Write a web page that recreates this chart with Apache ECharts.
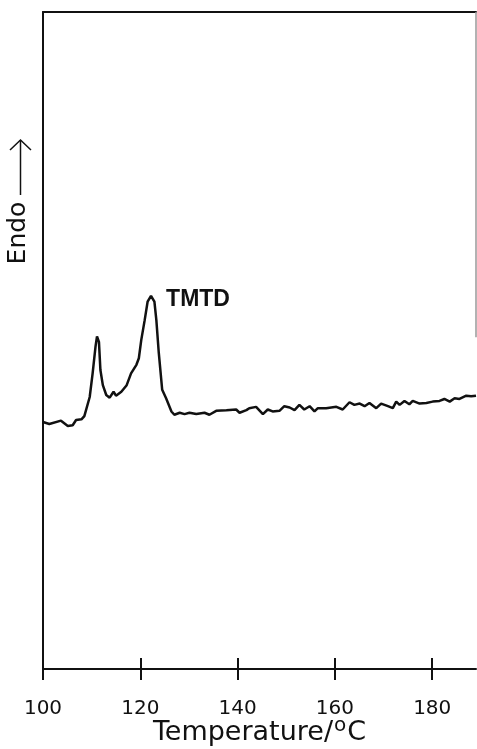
<!DOCTYPE html>
<html>
<head>
<meta charset="utf-8">
<script src="https://cdn.jsdelivr.net/npm/echarts@6/dist/echarts.min.js"></script>
<style>
  html, body { margin: 0; padding: 0; background: #fff; }
  #chart { width: 477px; height: 749px; }
</style>
</head>
<body>
<div id="chart"></div>
<script>
// DSC trace, temperature (°C) vs heat flow (arbitrary units, endo up)
var temps = [100.0, 101.3, 103.7, 105.1, 106.1, 106.8, 107.9, 108.5, 109.6, 110.2,
  110.8, 111.1, 111.5, 111.8, 112.3, 113.0, 113.7, 114.5, 115.0, 116.1,
  117.2, 118.1, 119.2, 119.7, 120.2, 120.9, 121.5, 122.2, 122.9, 123.3,
  123.8, 124.5, 125.3, 126.4, 127.0, 128.1, 129.1, 130.1, 131.5, 133.2,
  134.2, 135.6, 137.7, 139.7, 140.4, 141.8, 142.4, 143.8, 145.2, 146.2,
  147.2, 148.6, 149.6, 150.7, 151.7, 152.7, 153.7, 154.8, 155.8, 156.5,
  158.2, 160.3, 161.6, 163.0, 164.0, 165.1, 166.1, 167.1, 168.5, 169.5,
  170.9, 171.9, 172.6, 173.3, 174.3, 175.3, 176.0, 177.4, 178.8, 180.1,
  181.5, 182.5, 183.6, 184.6, 185.6, 187.0, 188.0, 189.0];
var signal = [37.6, 37.3, 37.8, 37.0, 37.1, 37.9, 38.0, 38.5, 41.4, 45.0,
  49.1, 50.6, 49.8, 45.5, 43.2, 41.7, 41.3, 42.2, 41.6, 42.2,
  43.2, 45.0, 46.3, 47.3, 50.1, 53.1, 55.9, 56.8, 55.9, 53.1,
  48.1, 42.5, 41.2, 39.2, 38.7, 39.0, 38.8, 39.0, 38.8, 39.0,
  38.7, 39.3, 39.4, 39.5, 39.0, 39.4, 39.7, 39.9, 38.8, 39.5,
  39.2, 39.3, 40.0, 39.8, 39.4, 40.2, 39.5, 40.0, 39.2, 39.7,
  39.7, 39.9, 39.5, 40.6, 40.2, 40.4, 40.0, 40.5, 39.7, 40.4,
  40.0, 39.7, 40.7, 40.2, 40.8, 40.3, 40.8, 40.4, 40.5, 40.7,
  40.8, 41.1, 40.7, 41.2, 41.1, 41.6, 41.5, 41.6];
var xTicks = [100, 120, 140, 160, 180];
var peakName = 'TMTD';

var pts = [];
for (var i = 0; i < temps.length; i++) {
  pts.push([temps[i], signal[i]]);
}

var chart = echarts.init(document.getElementById('chart'));
var ink = '#111';
var option = {
  backgroundColor: '#fff',
  animation: false,
  grid: { left: 43, right: 1, top: 12, bottom: 80, containLabel: false, outerBoundsMode: 'none' },
  xAxis: [
    {
      type: 'value', position: 'bottom', min: 100, max: 189, interval: 20,
      axisLine: { show: true, lineStyle: { color: ink, width: 2 } },
      axisTick: { show: true, inside: false, length: 11, customValues: xTicks,
        lineStyle: { color: ink, width: 2 } },
      axisLabel: { show: true, margin: 30, showMaxLabel: false,
        color: ink, fontSize: 20, fontFamily: 'DejaVu Sans' },
      splitLine: { show: false },
      name: 'Temperature/{s|o}C',
      nameLocation: 'middle',
      nameGap: 47,
      nameMoveOverlap: false,
      nameTextStyle: {
        color: ink, fontSize: 27, fontFamily: 'DejaVu Sans',
        rich: { s: { fontSize: 20, fontFamily: 'DejaVu Sans', color: ink, padding: [0, 1, 14, 1] } }
      }
    },
    {
      type: 'value', position: 'bottom', min: 100, max: 189,
      axisLine: { show: false },
      axisTick: { show: true, inside: true, length: 11, customValues: xTicks,
        lineStyle: { color: ink, width: 2 } },
      axisLabel: { show: false },
      splitLine: { show: false }
    },
    {
      type: 'value', position: 'top', min: 100, max: 189,
      axisLine: { show: true, lineStyle: { color: ink, width: 2 } },
      axisTick: { show: false },
      axisLabel: { show: false },
      splitLine: { show: false }
    }
  ],
  yAxis: {
    type: 'value', min: 0, max: 100,
    axisLine: { show: true, lineStyle: { color: ink, width: 2 } },
    axisTick: { show: false },
    axisLabel: { show: false },
    splitLine: { show: false }
  },
  series: [
    {
      type: 'line',
      data: pts,
      showSymbol: false,
      smooth: false,
      lineStyle: { color: ink, width: 2.5 },
      markLine: {
        silent: true,
        symbol: 'none',
        label: { show: false },
        lineStyle: { color: '#999', width: 1.5, type: 'solid' },
        data: [[{ coord: [189, 100] }, { coord: [189, 50.5] }]]
      },
      markPoint: {
        symbol: 'circle',
        symbolSize: 0,
        label: {
          show: true, position: 'right', distance: 0,
          formatter: peakName,
          color: ink, fontSize: 23, fontWeight: 'bold', fontFamily: 'Liberation Sans'
        },
        data: [{ coord: [125.3, 56.2] }]
      }
    }
  ],
  graphic: [
    {
      type: 'text',
      x: 18, y: 233, rotation: Math.PI / 2,
      style: {
        text: 'Endo', fill: ink, font: '25px "DejaVu Sans"',
        align: 'center', verticalAlign: 'middle'
      }
    },
    {
      type: 'line',
      shape: { x1: 20.5, y1: 195, x2: 20.5, y2: 140 },
      style: { stroke: ink, lineWidth: 1.5 }
    },
    {
      type: 'polyline',
      shape: { points: [[10, 150], [20.5, 140], [31, 150]] },
      style: { stroke: ink, lineWidth: 1.5, fill: null }
    }
  ]
};
chart.setOption(option);
</script>
</body>
</html>
